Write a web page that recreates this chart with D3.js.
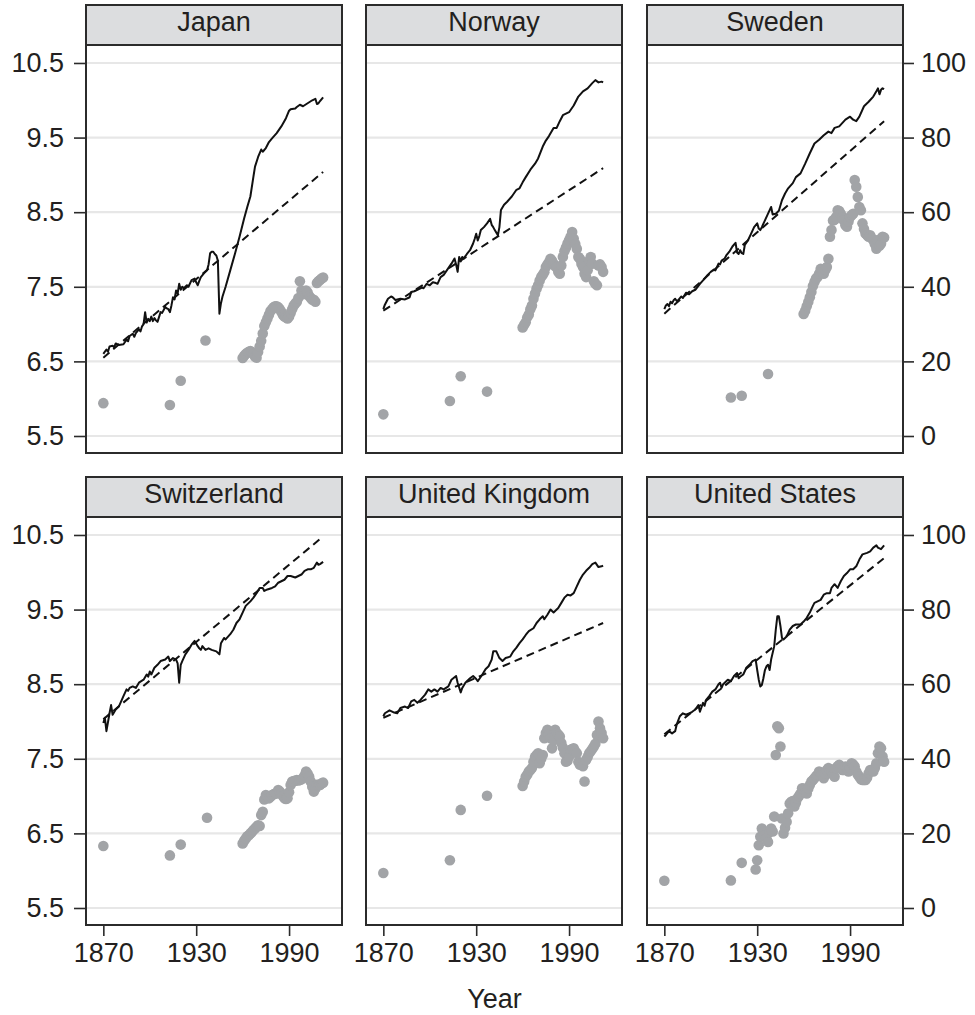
<!DOCTYPE html>
<html>
<head>
<meta charset="utf-8">
<script src="https://cdn.jsdelivr.net/npm/d3@7"></script>
<style>
  body { margin: 0; background: #fff; }
  svg text { font-family: "Liberation Sans", Arial, Helvetica, sans-serif; fill: #231f20; }
</style>
</head>
<body>
<svg id="chart" width="975" height="1015"></svg>
<script>
// ---- data -------------------------------------------------------------
// Log GDP per capita (left axis), [year, value]
const jpnGdp = [[1870,6.60],[1872,6.66],[1873,6.63],[1874,6.70],[1876,6.71],[1877,6.69],[1878,6.74],[1880,6.72],[1883,6.73],[1885,6.79],[1886,6.77],[1887,6.84],[1889,6.87],[1890,6.83],[1891,6.88],[1893,6.93],[1894,6.90],[1895,6.97],[1896,7.00],[1897,7.16],[1898,7.02],[1899,7.07],[1900,7.04],[1901,7.10],[1902,7.04],[1903,7.08],[1904,7.05],[1905,7.03],[1907,7.16],[1908,7.15],[1910,7.23],[1911,7.21],[1912,7.20],[1913,7.16],[1914,7.25],[1915,7.36],[1916,7.33],[1917,7.45],[1918,7.41],[1919,7.54],[1920,7.46],[1921,7.50],[1922,7.48],[1924,7.52],[1925,7.50],[1927,7.59],[1929,7.61],[1930,7.56],[1931,7.52],[1932,7.58],[1933,7.63],[1935,7.68],[1937,7.72],[1938,7.80],[1939,7.95],[1940,7.97],[1941,7.97],[1942,7.94],[1943,7.92],[1944,7.85],[1945,7.14],[1946,7.28],[1947,7.37],[1949,7.50],[1952,7.72],[1955,7.94],[1958,8.17],[1961,8.42],[1963,8.57],[1965,8.71],[1967,8.98],[1968,9.11],[1970,9.24],[1972,9.34],[1973,9.31],[1975,9.36],[1977,9.44],[1979,9.49],[1982,9.56],[1985,9.65],[1988,9.76],[1990,9.86],[1991,9.88],[1994,9.89],[1995,9.91],[1997,9.94],[1999,9.92],[2002,9.96],[2005,10.00],[2007,10.02],[2008,9.95],[2009,9.96],[2010,9.99],[2012,10.04]];
const norGdp = [[1870,7.20],[1871,7.26],[1872,7.30],[1873,7.34],[1875,7.37],[1876,7.36],[1878,7.32],[1879,7.33],[1881,7.34],[1884,7.33],[1886,7.35],[1887,7.36],[1888,7.43],[1890,7.44],[1891,7.45],[1893,7.47],[1895,7.49],[1896,7.48],[1898,7.54],[1900,7.52],[1902,7.56],[1904,7.55],[1905,7.54],[1907,7.63],[1909,7.66],[1911,7.72],[1913,7.78],[1914,7.81],[1916,7.88],[1917,7.80],[1918,7.70],[1919,7.90],[1920,7.84],[1921,7.90],[1922,7.88],[1924,7.94],[1926,7.99],[1928,8.08],[1929,8.14],[1930,8.21],[1931,8.12],[1932,8.18],[1933,8.26],[1935,8.30],[1937,8.35],[1939,8.41],[1940,8.33],[1941,8.30],[1942,8.26],[1944,8.19],[1945,8.30],[1946,8.53],[1948,8.60],[1950,8.64],[1953,8.71],[1956,8.80],[1958,8.82],[1960,8.90],[1962,8.97],[1965,9.07],[1968,9.15],[1970,9.22],[1973,9.38],[1975,9.46],[1977,9.52],[1980,9.63],[1982,9.63],[1984,9.72],[1986,9.80],[1988,9.82],[1990,9.84],[1993,9.93],[1996,10.05],[1999,10.12],[2002,10.16],[2005,10.23],[2007,10.27],[2009,10.24],[2011,10.25],[2012,10.24]];
const sweGdp = [[1870,7.20],[1871,7.25],[1872,7.27],[1873,7.24],[1874,7.30],[1875,7.28],[1876,7.32],[1877,7.34],[1878,7.31],[1879,7.32],[1881,7.37],[1882,7.35],[1884,7.42],[1886,7.40],[1888,7.44],[1890,7.46],[1893,7.54],[1896,7.61],[1898,7.66],[1900,7.70],[1902,7.73],[1903,7.72],[1905,7.81],[1906,7.80],[1907,7.85],[1909,7.88],[1910,7.92],[1912,7.97],[1914,8.04],[1916,8.09],[1917,7.96],[1918,7.94],[1919,7.99],[1920,7.95],[1921,7.94],[1922,8.06],[1924,8.12],[1926,8.21],[1928,8.30],[1930,8.35],[1931,8.28],[1932,8.26],[1933,8.30],[1935,8.39],[1937,8.48],[1939,8.57],[1940,8.47],[1942,8.48],[1944,8.52],[1946,8.66],[1948,8.75],[1950,8.82],[1953,8.89],[1955,8.97],[1958,9.02],[1961,9.15],[1964,9.29],[1967,9.42],[1970,9.47],[1973,9.53],[1976,9.58],[1978,9.56],[1980,9.63],[1983,9.65],[1987,9.74],[1990,9.78],[1992,9.74],[1994,9.72],[1996,9.78],[1999,9.92],[2002,9.98],[2005,10.05],[2007,10.12],[2008,10.16],[2009,10.08],[2010,10.14],[2011,10.16],[2012,10.15]];
const cheGdp = [[1870,7.98],[1871,8.05],[1872,7.87],[1874,8.11],[1875,8.22],[1876,8.09],[1878,8.16],[1880,8.20],[1883,8.34],[1885,8.43],[1886,8.41],[1887,8.45],[1889,8.47],[1891,8.45],[1893,8.52],[1896,8.56],[1898,8.63],[1899,8.60],[1900,8.67],[1901,8.63],[1903,8.72],[1905,8.76],[1907,8.81],[1910,8.83],[1912,8.87],[1913,8.81],[1915,8.85],[1917,8.83],[1918,8.78],[1919,8.52],[1920,8.76],[1921,8.81],[1923,8.90],[1925,8.96],[1927,9.03],[1929,9.08],[1931,9.01],[1932,8.98],[1933,8.96],[1934,9.01],[1936,8.96],[1938,8.98],[1940,8.96],[1943,8.94],[1945,8.90],[1946,9.05],[1948,9.12],[1949,9.10],[1952,9.17],[1954,9.23],[1956,9.32],[1958,9.37],[1960,9.46],[1962,9.55],[1965,9.61],[1967,9.66],[1969,9.72],[1971,9.79],[1973,9.79],[1974,9.75],[1976,9.77],[1979,9.79],[1981,9.81],[1983,9.86],[1985,9.88],[1987,9.90],[1989,9.95],[1991,9.95],[1994,9.93],[1996,9.95],[1998,9.97],[2000,10.02],[2002,10.04],[2004,10.04],[2006,10.06],[2008,10.13],[2009,10.10],[2010,10.11],[2012,10.14]];
const gbrGdp = [[1870,8.07],[1871,8.11],[1874,8.15],[1877,8.12],[1879,8.11],[1881,8.18],[1884,8.20],[1886,8.18],[1888,8.27],[1890,8.29],[1892,8.25],[1894,8.29],[1897,8.36],[1899,8.43],[1901,8.40],[1903,8.43],[1905,8.40],[1907,8.45],[1909,8.43],[1912,8.47],[1914,8.56],[1917,8.61],[1918,8.52],[1920,8.39],[1921,8.45],[1923,8.52],[1926,8.58],[1928,8.61],[1930,8.57],[1931,8.54],[1934,8.63],[1936,8.70],[1938,8.74],[1940,8.83],[1941,8.94],[1943,8.94],[1945,8.85],[1947,8.81],[1949,8.85],[1952,8.87],[1954,8.94],[1956,8.99],[1958,9.05],[1960,9.10],[1962,9.16],[1964,9.21],[1967,9.25],[1969,9.32],[1971,9.37],[1973,9.41],[1974,9.37],[1976,9.43],[1978,9.50],[1980,9.46],[1983,9.52],[1985,9.59],[1987,9.66],[1989,9.70],[1991,9.69],[1993,9.72],[1995,9.81],[1997,9.90],[1999,9.97],[2001,10.02],[2003,10.06],[2005,10.11],[2007,10.13],[2009,10.07],[2011,10.08],[2012,10.09]];
const usaGdp = [[1870,7.80],[1871,7.82],[1873,7.87],[1875,7.84],[1877,7.87],[1878,7.96],[1880,8.07],[1882,8.11],[1884,8.09],[1886,8.11],[1888,8.13],[1890,8.16],[1892,8.22],[1893,8.13],[1895,8.25],[1896,8.21],[1897,8.29],[1899,8.34],[1901,8.40],[1903,8.43],[1905,8.50],[1906,8.52],[1907,8.45],[1908,8.50],[1909,8.52],[1911,8.56],[1913,8.54],[1915,8.61],[1917,8.65],[1918,8.58],[1919,8.60],[1921,8.63],[1923,8.72],[1925,8.76],[1927,8.81],[1929,8.83],[1930,8.69],[1931,8.56],[1932,8.47],[1933,8.49],[1934,8.58],[1935,8.69],[1936,8.74],[1937,8.76],[1938,8.69],[1939,8.83],[1941,9.01],[1942,9.23],[1943,9.41],[1944,9.41],[1945,9.28],[1946,9.12],[1947,9.10],[1949,9.14],[1951,9.23],[1953,9.28],[1955,9.30],[1958,9.30],[1960,9.34],[1962,9.39],[1964,9.46],[1966,9.55],[1967,9.59],[1969,9.61],[1971,9.63],[1973,9.70],[1975,9.72],[1977,9.72],[1978,9.79],[1980,9.84],[1982,9.79],[1984,9.88],[1986,9.95],[1988,9.99],[1990,10.04],[1992,10.04],[1994,10.08],[1996,10.17],[1998,10.24],[2001,10.26],[2003,10.28],[2005,10.33],[2007,10.36],[2008,10.33],[2010,10.31],[2012,10.36]];

// Long-run linear trend of log GDP per capita (left axis), endpoints
const jpnTrend = [[1870,6.55],[2012,9.04]];
const norTrend = [[1870,7.18],[2012,9.09]];
const sweTrend = [[1870,7.14],[2012,9.72]];
const cheTrend = [[1870,8.03],[2012,10.48]];
const gbrTrend = [[1870,8.05],[2012,9.32]];
const usaTrend = [[1870,7.83],[2012,10.19]];

// Second series on the right axis (0-100), [year, value]
const jpnShare = [[1870,8.8],[1913,8.3],[1920,14.8],[1936,25.6],[1960,20.9],[1961,21.5],[1962,22.0],[1963,22.3],[1964,22.6],[1965,22.8],[1966,22.5],[1967,22.0],[1968,21.3],[1969,21.0],[1970,22.5],[1971,24.0],[1972,25.5],[1973,27.5],[1974,29.5],[1975,30.5],[1976,31.5],[1977,32.5],[1978,33.5],[1979,34.0],[1980,34.5],[1981,34.8],[1982,34.8],[1983,34.5],[1984,34.0],[1985,33.3],[1986,32.5],[1987,32.0],[1988,31.8],[1989,31.5],[1990,32.0],[1991,33.0],[1992,34.0],[1993,35.0],[1994,35.5],[1995,36.0],[1996,37.0],[1997,41.5],[1998,39.0],[1999,38.0],[2000,38.5],[2001,39.0],[2002,38.5],[2003,37.5],[2004,37.0],[2005,36.5],[2006,36.5],[2007,36.0],[2008,41.0],[2009,41.5],[2010,41.8],[2011,42.2],[2012,42.5]];
const norShare = [[1870,5.8],[1913,9.4],[1920,16.0],[1937,11.9],[1960,29.1],[1961,29.8],[1962,30.5],[1963,31.8],[1964,32.6],[1965,34.0],[1966,35.0],[1967,36.8],[1968,38.2],[1969,39.5],[1970,40.4],[1971,41.7],[1972,42.6],[1973,43.2],[1974,43.9],[1975,45.3],[1976,46.0],[1977,46.6],[1978,47.5],[1979,47.0],[1980,46.2],[1981,45.5],[1982,45.3],[1983,44.0],[1984,43.5],[1985,45.7],[1986,48.0],[1987,49.5],[1988,50.5],[1989,51.6],[1990,52.5],[1991,53.4],[1992,54.7],[1993,52.9],[1994,51.5],[1995,50.2],[1996,48.0],[1997,47.5],[1998,46.2],[1999,45.3],[2000,43.5],[2001,42.6],[2002,44.4],[2003,47.0],[2004,48.0],[2005,46.2],[2006,41.5],[2007,40.8],[2008,40.4],[2009,45.7],[2010,46.0],[2011,45.3],[2012,44.0]];
const sweShare = [[1913,10.3],[1920,10.8],[1937,16.6],[1960,32.7],[1961,33.6],[1962,34.8],[1963,35.9],[1964,37.2],[1965,38.6],[1966,40.2],[1967,41.3],[1968,42.2],[1969,42.6],[1970,43.5],[1971,44.8],[1972,44.0],[1973,43.5],[1974,44.5],[1975,45.3],[1976,47.5],[1977,53.4],[1978,55.2],[1979,57.8],[1980,58.0],[1981,58.7],[1982,60.5],[1983,60.3],[1984,59.6],[1985,58.5],[1986,57.8],[1987,56.5],[1988,56.1],[1989,57.5],[1990,58.7],[1991,59.2],[1992,59.6],[1993,68.6],[1994,66.8],[1995,64.1],[1996,61.4],[1997,60.5],[1998,57.0],[1999,55.5],[2000,54.3],[2001,53.8],[2002,53.4],[2003,53.8],[2004,53.0],[2005,52.5],[2006,51.5],[2007,50.2],[2008,52.5],[2009,51.0],[2010,51.6],[2011,53.4],[2012,53.2]];
const cheShare = [[1870,16.6],[1913,14.1],[1920,17.0],[1937,24.2],[1960,17.3],[1961,18.0],[1962,18.6],[1963,19.2],[1964,19.5],[1965,20.0],[1966,20.4],[1967,20.9],[1968,21.3],[1969,21.8],[1970,22.2],[1971,22.0],[1972,24.9],[1973,25.8],[1974,29.1],[1975,30.3],[1976,30.0],[1977,29.4],[1978,29.8],[1979,30.3],[1980,30.5],[1981,30.7],[1982,30.7],[1983,31.6],[1984,31.2],[1985,30.7],[1986,30.0],[1987,29.4],[1988,29.2],[1989,29.4],[1990,31.0],[1991,33.0],[1992,33.9],[1993,34.0],[1994,34.1],[1995,34.3],[1996,34.2],[1997,34.3],[1998,34.5],[1999,34.8],[2000,35.5],[2001,36.6],[2002,36.0],[2003,35.2],[2004,33.9],[2005,32.5],[2006,31.2],[2007,32.0],[2008,33.0],[2009,33.0],[2010,33.0],[2011,33.4],[2012,33.6]];
const gbrShare = [[1870,9.4],[1913,12.8],[1920,26.3],[1937,30.1],[1960,32.7],[1961,33.9],[1962,35.2],[1963,35.8],[1964,36.6],[1965,37.0],[1966,37.5],[1967,39.2],[1968,40.5],[1969,41.0],[1970,41.5],[1971,38.8],[1972,40.0],[1973,41.0],[1974,45.5],[1975,46.9],[1976,47.8],[1977,46.5],[1978,45.5],[1979,42.8],[1980,45.0],[1981,47.8],[1982,46.9],[1983,46.5],[1984,46.0],[1985,44.2],[1986,43.0],[1987,41.5],[1988,39.2],[1989,39.5],[1990,40.6],[1991,42.4],[1992,42.6],[1993,42.8],[1994,42.0],[1995,41.5],[1996,39.2],[1997,38.4],[1998,38.8],[1999,38.0],[2000,33.9],[2001,39.7],[2002,40.5],[2003,41.5],[2004,42.0],[2005,42.6],[2006,43.3],[2007,44.0],[2008,46.4],[2009,50.0],[2010,48.2],[2011,46.9],[2012,45.5]];
const usaShare = [[1870,7.3],[1913,7.4],[1920,12.1],[1929,10.3],[1930,12.8],[1931,16.8],[1932,19.1],[1933,21.3],[1934,20.4],[1935,19.5],[1936,18.6],[1937,17.7],[1938,20.4],[1939,21.3],[1940,20.5],[1941,24.5],[1942,41.0],[1943,48.7],[1944,48.2],[1945,43.3],[1946,24.0],[1947,20.0],[1948,21.5],[1949,23.1],[1950,25.4],[1951,28.0],[1952,28.5],[1953,28.7],[1954,27.2],[1955,28.2],[1956,29.4],[1957,30.0],[1958,30.7],[1959,32.1],[1960,32.0],[1961,31.6],[1962,30.7],[1963,32.0],[1964,33.0],[1965,33.9],[1966,34.3],[1967,34.8],[1968,35.3],[1969,35.7],[1970,36.6],[1971,36.3],[1972,36.1],[1973,34.8],[1974,36.0],[1975,37.0],[1976,37.5],[1977,37.0],[1978,36.6],[1979,35.8],[1980,35.2],[1981,37.5],[1982,38.0],[1983,38.4],[1984,37.5],[1985,37.0],[1986,37.0],[1987,37.9],[1988,37.5],[1989,36.6],[1990,37.5],[1991,38.8],[1992,38.5],[1993,37.9],[1994,36.6],[1995,35.8],[1996,35.2],[1997,34.5],[1998,34.3],[1999,34.3],[2000,34.3],[2001,35.0],[2002,36.1],[2003,37.0],[2004,37.0],[2005,36.6],[2006,37.5],[2007,38.8],[2008,41.5],[2009,43.3],[2010,42.8],[2011,40.6],[2012,39.2]];

const countries = ["Japan", "Norway", "Sweden", "Switzerland", "United Kingdom", "United States"];
const gdpSeries = [jpnGdp, norGdp, sweGdp, cheGdp, gbrGdp, usaGdp];
const trendSeries = [jpnTrend, norTrend, sweTrend, cheTrend, gbrTrend, usaTrend];
const shareSeries = [jpnShare, norShare, sweShare, cheShare, gbrShare, usaShare];

const leftTicks = [5.5, 6.5, 7.5, 8.5, 9.5, 10.5];
const rightTicks = [0, 20, 40, 60, 80, 100];
const yearTicks = [1870, 1930, 1990];

// ---- layout -----------------------------------------------------------
const svg = d3.select("#chart");
const colLeft = [86, 366, 647];
const rowTop = [5, 477];
const panelW = 256, stripH = 40, panelH = 408;
const fontSize = 27;
const xDomain = [1858.8, 2024.2];
const yDomain = [5.272, 10.741];
const rightDomain = [(yDomain[0] - 5.5) * 20, (yDomain[1] - 5.5) * 20];

countries.forEach((name, i) => {
  const col = i % 3, row = Math.floor(i / 3);
  const left = colLeft[col];
  const top = rowTop[row] + stripH;
  const bottom = top + panelH;

  const x = d3.scaleLinear().domain(xDomain).range([left, left + panelW]);
  const y = d3.scaleLinear().domain(yDomain).range([bottom, top]);
  const yR = d3.scaleLinear().domain(rightDomain).range([bottom, top]);

  const g = svg.append("g");

  // strip header
  g.append("rect")
    .attr("x", left).attr("y", rowTop[row])
    .attr("width", panelW).attr("height", stripH)
    .attr("fill", "#dcdddf").attr("stroke", "#2b2b2b").attr("stroke-width", 2);
  g.append("text")
    .attr("x", left + panelW / 2).attr("y", rowTop[row] + 26)
    .attr("text-anchor", "middle").attr("font-size", fontSize)
    .text(name);

  // panel background and gridlines
  g.append("rect")
    .attr("x", left).attr("y", top).attr("width", panelW).attr("height", panelH)
    .attr("fill", "#fff");
  g.selectAll(".grid").data(leftTicks).join("line")
    .attr("x1", left + 1).attr("x2", left + panelW - 1)
    .attr("y1", d => y(d)).attr("y2", d => y(d))
    .attr("stroke", "#e7e7e7").attr("stroke-width", 2.2);

  // right-axis series as points
  g.selectAll(".pt").data(shareSeries[i]).join("circle")
    .attr("cx", d => x(d[0])).attr("cy", d => yR(d[1]))
    .attr("r", 5.3).attr("fill", "#a2a4a7");

  // log GDP per capita and its trend
  const line = d3.line().x(d => x(d[0])).y(d => y(d[1]));
  g.append("path").datum(gdpSeries[i]).attr("d", line)
    .attr("fill", "none").attr("stroke", "#111").attr("stroke-width", 2)
    .attr("stroke-linejoin", "round");
  g.append("path").datum(trendSeries[i]).attr("d", line)
    .attr("fill", "none").attr("stroke", "#111").attr("stroke-width", 2)
    .attr("stroke-dasharray", "8,5");

  // panel frame
  g.append("rect")
    .attr("x", left).attr("y", top).attr("width", panelW).attr("height", panelH)
    .attr("fill", "none").attr("stroke", "#2b2b2b").attr("stroke-width", 2);

  // axes
  const styleAxis = sel => {
    sel.select(".domain").remove();
    sel.selectAll(".tick line").attr("stroke", "#2b2b2b").attr("stroke-width", 1.6);
    sel.selectAll(".tick text").attr("font-size", fontSize).attr("fill", "#231f20")
      .attr("font-family", "'Liberation Sans', Arial, Helvetica, sans-serif");
  };
  if (col === 0) {
    g.append("g").attr("transform", `translate(${left},0)`)
      .call(d3.axisLeft(y).tickValues(leftTicks).tickSize(12).tickPadding(10).tickFormat(d3.format(".1f")))
      .call(styleAxis);
  }
  if (col === 2) {
    g.append("g").attr("transform", `translate(${left + panelW},0)`)
      .call(d3.axisRight(yR).tickValues(rightTicks).tickSize(11).tickPadding(7))
      .call(styleAxis);
  }
  if (row === 1) {
    g.append("g").attr("transform", `translate(0,${bottom})`)
      .call(d3.axisBottom(x).tickValues(yearTicks).tickSize(11).tickPadding(7).tickFormat(d3.format("d")))
      .call(styleAxis);
  }
});

svg.append("text")
  .attr("x", (colLeft[0] + colLeft[2] + panelW) / 2).attr("y", 1008)
  .attr("text-anchor", "middle").attr("font-size", fontSize)
  .text("Year");
</script>
</body>
</html>
